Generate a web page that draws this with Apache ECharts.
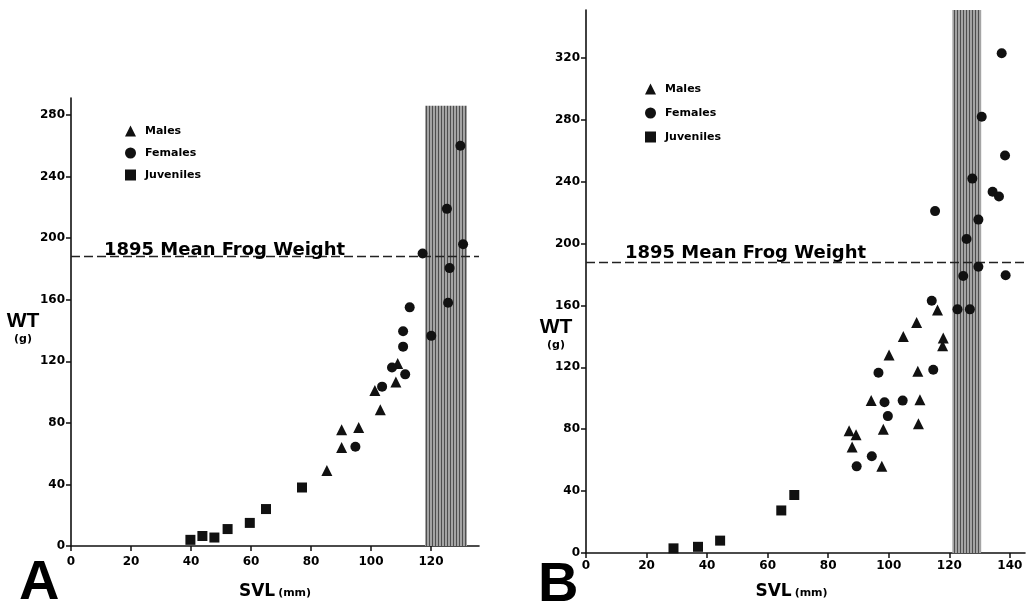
<!DOCTYPE html>
<html>
<head>
<meta charset="utf-8">
<script src="https://cdn.jsdelivr.net/npm/echarts@6/dist/echarts.min.js"></script>
<style>
html,body{margin:0;padding:0;background:#fff;}
#chart{width:1029px;height:605px;}
</style>
</head>
<body>
<div id="chart"></div>
<script>
// ---------- DATA ----------
// Panel A
const maleA = [[85.3,49],[90.2,64],[90.2,75.5],[95.9,77],[101.3,101],[103.1,88.5],[108.3,106.5],[108.9,118.5]];
const femaleA = [[94.8,64.5],[103.7,103.5],[107,116],[111.4,111.5],[110.7,129.5],[110.7,139.5],[112.9,155],[117.2,190],[120.1,136.5],[125.3,219],[125.7,158],[126.2,180.5],[129.8,260],[130.7,196]];
const juvA = [[39.8,4],[43.8,6.5],[47.8,5.5],[52.2,11],[59.6,15],[65,24],[77,38]];
// Panel B
const maleB = [[86.9,79],[89.2,76.5],[87.9,68.5],[94.2,98.5],[97.7,56],[98.2,80],[100.1,128],[104.8,140],[109.2,149],[109.6,117.5],[110.3,99],[109.8,83.5],[116.1,157],[118,139],[117.8,134]];
const femaleB = [[89.4,56],[94.4,62.5],[96.6,116.5],[98.6,97.5],[99.7,88.5],[104.6,98.5],[114.2,163],[114.7,118.5],[115.3,221],[122.7,157.5],[124.6,179],[125.7,203],[126.8,157.5],[127.6,242],[129.6,215.5],[129.6,185],[130.7,282],[134.3,233.5],[136.4,230.5],[137.3,323],[138.4,257],[138.6,179.5]];
const juvB = [[28.9,3],[37,4],[44.3,8],[64.5,27.5],[68.8,37.5]];

const meanWeight1895 = 188;
const meanLabel = '1895 Mean Frog Weight';
// shaded bands: [xStart, xEnd, yTop]
const bandA = [118, 132, 286];
const bandB = [121, 130.5, 351];

const xTicksA = [0,20,40,60,80,100,120];
const yTicksA = [0,40,80,120,160,200,240,280];
const xTicksB = [0,20,40,60,80,100,120,140];
const yTicksB = [0,40,80,120,160,200,240,280,320];
const seriesNames = ['Males','Females','Juveniles'];
const panelLetters = ['A','B'];

// ---------- STYLE ----------
const INK = '#111';
const FONT = 'DejaVu Sans';

function hatch(){
  const c = document.createElement('canvas');
  c.width = 3; c.height = 3;
  const g = c.getContext('2d');
  g.fillStyle = '#a4a4a4'; g.fillRect(0,0,3,3);
  g.fillStyle = '#4e4e4e'; g.fillRect(0,0,1,3);
  return c;
}
const hatchPattern = {image: hatch(), repeat: 'repeat'};

function xAxis(idx, max, ticks, nameGap, namePad, labelMargin){
  return {
    type:'value', gridIndex: idx, min:0, max:max,
    axisLine:{show:true, onZero:false, lineStyle:{color:INK, width:1.6}},
    axisTick:{show:true, length:5, lineStyle:{color:INK, width:1.5}, customValues: ticks},
    axisLabel:{customValues: ticks, color:'#000', fontFamily:FONT, fontWeight:'bold', fontSize:12, margin:labelMargin},
    splitLine:{show:false},
    name:'{a|SVL}{b|(mm)}', nameLocation:'middle', nameGap:nameGap, nameMoveOverlap:false,
    nameTextStyle:{padding:namePad, rich:{
      a:{fontFamily:FONT, fontWeight:'bold', fontSize:17, color:'#000'},
      b:{fontFamily:FONT, fontWeight:'bold', fontSize:11, color:'#000', padding:[3,0,0,3]}
    }}
  };
}
function yAxis(idx, max, ticks, nameGap, namePad){
  return {
    type:'value', gridIndex: idx, min:0, max:max,
    axisLine:{show:true, onZero:false, lineStyle:{color:INK, width:1.6}},
    axisTick:{show:true, length:5, lineStyle:{color:INK, width:1.5}, customValues: ticks},
    axisLabel:{customValues: ticks, color:'#000', fontFamily:FONT, fontWeight:'bold', fontSize:12, margin:6},
    splitLine:{show:false},
    name:'{a|WT}\n{b|(g)}', nameLocation:'middle', nameRotate:0, nameGap:nameGap, nameMoveOverlap:false,
    nameTextStyle:{align:'center', verticalAlign:'middle', padding:namePad, rich:{
      a:{fontFamily:'Liberation Sans', fontWeight:'bold', fontSize:21, color:'#000', lineHeight:22, align:'center'},
      b:{fontFamily:FONT, fontWeight:'bold', fontSize:11, color:'#000', lineHeight:14, align:'center'}
    }}
  };
}

function scatter(name, idx, data, symbol, size){
  return {name:name, type:'scatter', xAxisIndex:idx, yAxisIndex:idx, data:data,
    symbol:symbol, symbolSize:size, itemStyle:{color:INK, opacity:1}, z:5};
}
function bandArea(band){
  return {silent:true, itemStyle:{color:hatchPattern, opacity:1, borderWidth:0},
    data:[[{xAxis:band[0], yAxis:0},{xAxis:band[1], yAxis:band[2]}]]};
}
function meanLine(labelPad, dist){
  return {silent:true, symbol:['none','none'],
    lineStyle:{color:'#222', type:[9,4], width:1.3},
    label:{show:true, position:'insideStartTop', formatter:meanLabel, distance:dist,
      padding:labelPad, color:'#000', fontFamily:FONT, fontWeight:'bold', fontSize:18},
    data:[{yAxis:meanWeight1895}]};
}

const maleSeriesA = scatter('Males',0,maleA,'triangle',11);
const femaleSeriesA = Object.assign(scatter('Females',0,femaleA,'circle',10), {markArea: bandArea(bandA)});
const juvSeriesA = Object.assign(scatter('Juveniles',0,juvA,'rect',10), {markLine: meanLine([0,0,0,36],-3)});
const maleSeriesB = scatter('Males',1,maleB,'triangle',11);
const femaleSeriesB = Object.assign(scatter('Females',1,femaleB,'circle',10), {markArea: bandArea(bandB)});
const juvSeriesB = Object.assign(scatter('Juveniles',1,juvB,'rect',10), {markLine: meanLine([0,0,0,39],0)});

const legendCommon = {orient:'vertical', itemWidth:11, itemHeight:11,
  textStyle:{fontFamily:FONT, fontWeight:'bold', fontSize:11, color:'#000', lineHeight:12, padding:[0,0,0,4]},
  data:seriesNames, selectedMode:false, inactiveColor:INK};

const option = {
  animation:false,
  backgroundColor:'#fff',
  title:[
    {text:panelLetters[0], left:19, top:556, padding:0, textStyle:{fontFamily:'Liberation Sans', fontWeight:'bold', fontSize:56, color:'#000'}},
    {text:panelLetters[1], left:538, top:558, padding:0, textStyle:{fontFamily:'Liberation Sans', fontWeight:'bold', fontSize:56, color:'#000'}}
  ],
  legend:[
    Object.assign({}, legendCommon, {left:120, top:120, itemGap:10}),
    Object.assign({}, legendCommon, {left:640, top:78, itemGap:12})
  ],
  grid:[
    {left:71, top:98, width:408, height:449},
    {left:586, top:10, width:439, height:543}
  ],
  xAxis:[ xAxis(0, 136, xTicksA, 37, [0,0,0,0], 10), xAxis(1, 145, xTicksB, 30, [0,28,0,0], 7) ],
  yAxis:[ yAxis(0, 291, yTicksA, 48, [12,0,0,0]), yAxis(1, 351, yTicksB, 30, [105,0,0,0]) ],
  series:[ maleSeriesA, femaleSeriesA, juvSeriesA, maleSeriesB, femaleSeriesB, juvSeriesB ]
};
const chart = echarts.init(document.getElementById('chart'), null, {renderer:'canvas'});
chart.setOption(option);
</script>
</body>
</html>
